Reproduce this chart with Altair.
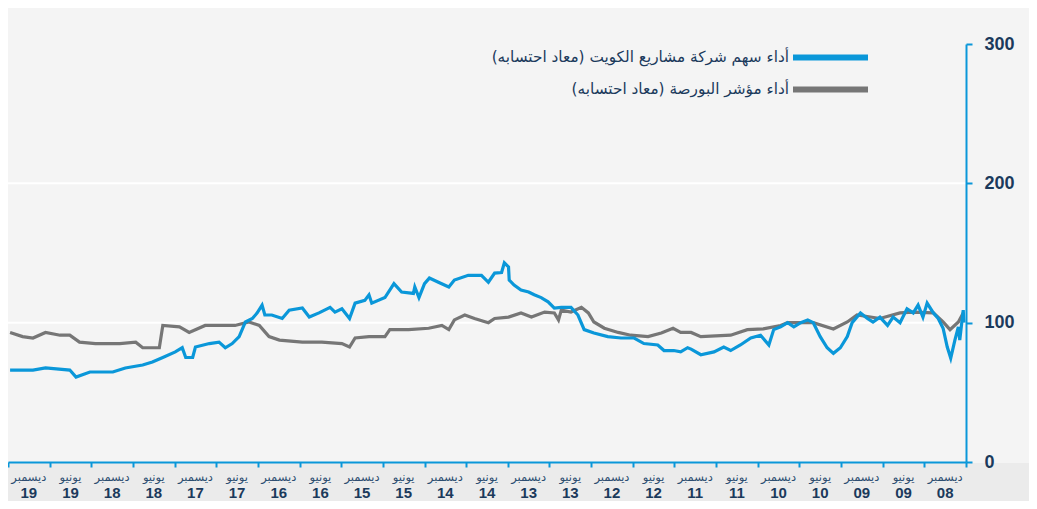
import altair as alt
import pandas as pd

# months since December 2008 (x) and rebased performance (y)
kpro_months = [137.7,134.4,132.6,129.1,128.2,126.2,122.9,121.1,118.6,117.2,115.7,113.9,112.9,112.4,111.4,111.0,109.0,107.6,106.7,105.7,104.7,103.8,102.8,102.1,101.4,101.0,100.0,98.5,97.5,95.6,94.6,93.2,91.6,90.9,89.9,88.8,88.0,86.6,86.0,85.6,83.7,82.4,81.3,79.6,79.4,78.8,78.0,77.3,76.0,74.5,73.7,71.7,69.8,68.8,67.9,66.9,66.5,65.9,65.8,65.1,64.1,63.0,62.2,61.2,60.2,59.3,58.3,56.9,55.9,55.0,53.6,51.6,49.7,47.8,46.4,44.4,43.5,42.1,41.1,40.1,39.6,38.2,36.3,34.9,33.9,32.5,31.0,29.6,28.4,27.7,26.7,25.7,24.8,23.8,22.8,22.0,21.0,20.0,19.1,18.1,17.1,16.4,15.2,14.2,13.4,12.4,11.3,10.5,9.5,8.5,7.6,6.9,6.2,5.6,4.7,4.0,3.3,2.7,2.2,1.6,1.1,0.9,0.4,0.3]
kpro_values = [66,66,67.5,66,61,64.6,64.6,67.5,69.6,71.8,75,79,82,75,75,82.5,85,86,82,85,90,100.5,103,107,112.6,105.5,105.5,103,109,110.5,104,107,111,107.6,110,103,114,116,120,114,118,128,122,121,125.6,118,128,132,129,125.6,130.6,134,134,129,135.6,136,143,140,130.6,127,123.4,122,120,118,115,110.5,111,111,105.5,95,92.6,90,89,89,85,84,80,80,79,82,81,77,79,82.5,80,84,89,91,84,95,97,100,97,100,102,100,90,82,78,82,90,100,107,103,100.5,104,98,104,100,110,107,112.6,104,114,107,103,96,82.5,74.6,87.5,97,87.5,109,100]

index_months = [137.7,135.9,134.4,132.6,130.5,129.1,127.7,125.4,121.9,119.6,118.6,116.2,115.7,113.3,111.9,109.6,107.1,105.3,103.3,101.8,100.4,98.9,95.6,92.8,89.9,88.8,88.0,86.0,83.7,83.0,80.3,77.4,75.5,74.5,73.7,72.2,70.8,68.8,67.9,65.9,64.1,62.6,60.7,59.3,58.7,58.3,56.9,55.4,54.4,53.6,52.1,50.1,48.3,45.8,43.9,42.2,41.1,39.6,38.2,33.9,31.5,29.2,26.7,25.7,22.0,19.1,17.1,15.7,12.4,9.5,7.6,4.7,3.3,2.3,1.1,0.4]
index_values = [93,90,89,93,91,91,86,85,85,86,82,82,98,97,93,98,98,98,100.5,98,90,87.5,86,86,85,82.5,89,90,90,95,95,96,98,95,102,105.5,103,100,103,104,107,104,107.6,107,102,109,107.6,111,107,100.5,96,93,91,90,92.6,96,93,93,90,91,95,95.5,98,100,100,95.5,100.5,105.5,103,107,107.6,107,100.5,95,100.5,107]

period_months = ["ديسمبر","يونيو","ديسمبر","يونيو","ديسمبر","يونيو","ديسمبر","يونيو","ديسمبر","يونيو","ديسمبر","يونيو","ديسمبر","يونيو","ديسمبر","يونيو","ديسمبر","يونيو","ديسمبر","يونيو","ديسمبر","يونيو","ديسمبر"]
period_years = ["08","09","09","10","10","11","11","12","12","13","13","14","14","15","15","16","16","17","17","18","18","19","19"]

legend_kpro = "أداء سهم شركة مشاريع الكويت (معاد احتسابه)"
legend_index = "أداء مؤشر البورصة (معاد احتسابه)"
y_ticks = [0, 100, 200, 300]
grid_values = [100, 200]

BLUE = "#0a97d9"
GRAY = "#767676"
NAVY = "#1b3a5c"
W, H = 958, 418

xscale = alt.Scale(domain=[0, 138], reverse=True, nice=False, zero=False)
yscale = alt.Scale(domain=[0, 300], nice=False)

kpro_df = pd.DataFrame({"m": kpro_months, "v": kpro_values})
index_df = pd.DataFrame({"m": index_months, "v": index_values})
lab_df = pd.DataFrame({
    "mid": [6 * i + 3 for i in range(len(period_months))],
    "month": period_months,
    "year": period_years,
})
grid_df = pd.DataFrame({"v": grid_values})

x_axis = alt.Axis(values=list(range(0, 139, 6)), labels=False, title=None, grid=False,
                  domainColor=BLUE, domainWidth=2, tickColor=BLUE, tickWidth=2,
                  tickSize=5, zindex=1)
y_axis = alt.Axis(orient="right", values=y_ticks, title=None, grid=False,
                  domainColor=BLUE, domainWidth=2, tickColor=BLUE, tickWidth=2,
                  tickSize=6, labelFont="Liberation Sans", labelFontWeight="bold",
                  labelFontSize=18, labelColor=NAVY, labelPadding=12, zindex=1)

band = alt.Chart(pd.DataFrame({"a": [0]})).mark_rect(color="#ebebeb").encode(
    x=alt.value(0), x2=alt.value(W + 63), y=alt.value(H + 1), y2=alt.value(H + 45)
)

grid = alt.Chart(grid_df).mark_rule(color="white", strokeWidth=2).encode(
    y=alt.Y("v:Q", scale=yscale, axis=y_axis)
)

index_line = alt.Chart(index_df).mark_line(color=GRAY, strokeWidth=3.2).encode(
    x=alt.X("m:Q", scale=xscale, axis=x_axis),
    y=alt.Y("v:Q", scale=yscale, axis=y_axis),
)
kpro_line = alt.Chart(kpro_df).mark_line(color=BLUE, strokeWidth=3.2).encode(
    x=alt.X("m:Q", scale=xscale, axis=x_axis),
    y=alt.Y("v:Q", scale=yscale, axis=y_axis),
)

month_text = alt.Chart(lab_df).mark_text(font="DejaVu Sans", fontSize=11.5, color="#2c4d70").encode(
    x=alt.X("mid:Q", scale=xscale), y=alt.value(H + 16), text="month:N"
)
year_text = alt.Chart(lab_df).mark_text(font="Liberation Sans", fontWeight="bold", fontSize=15, color=NAVY).encode(
    x=alt.X("mid:Q", scale=xscale), y=alt.value(H + 31), text="year:N"
)

RLM = "\u200f"
leg1_text = alt.Chart(pd.DataFrame({"t": [RLM + legend_kpro + RLM]})).mark_text(
    font="DejaVu Sans", fontSize=15.3, color=NAVY, align="right", baseline="middle"
).encode(x=alt.value(781), y=alt.value(13), text="t:N")
leg2_text = alt.Chart(pd.DataFrame({"t": [RLM + legend_index + RLM]})).mark_text(
    font="DejaVu Sans", fontSize=15.3, color=NAVY, align="right", baseline="middle"
).encode(x=alt.value(781), y=alt.value(45), text="t:N")
leg1_sw = alt.Chart(pd.DataFrame({"a": [0]})).mark_rule(color=BLUE, strokeWidth=6).encode(
    x=alt.value(785), x2=alt.value(860), y=alt.value(13.5)
)
leg2_sw = alt.Chart(pd.DataFrame({"a": [0]})).mark_rule(color=GRAY, strokeWidth=6).encode(
    x=alt.value(785), x2=alt.value(860), y=alt.value(45.5)
)

chart = alt.layer(
    band, grid, index_line, kpro_line, month_text, year_text,
    leg1_text, leg2_text, leg1_sw, leg2_sw
).properties(
    width=W, height=H,
    autosize=alt.AutoSizeParams(type="none"),
    padding={"left": 0, "top": 36, "right": 63, "bottom": 39},
    background="#f4f4f4",
).configure_view(stroke=None)

chart.save("out.html", embed_options={"renderer": "svg", "actions": False})
